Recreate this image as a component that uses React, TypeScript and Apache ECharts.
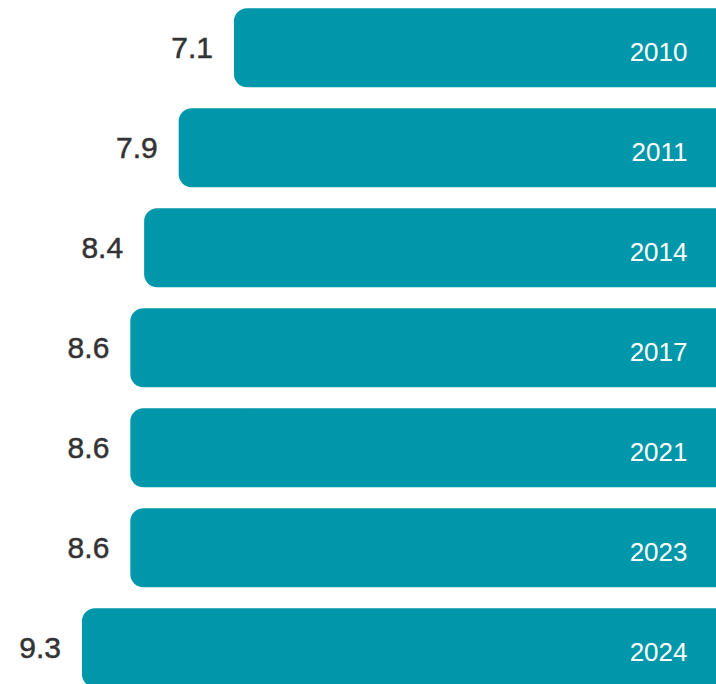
import React, { useEffect, useRef } from "react";
import * as echarts from "echarts";

const years = ["2010", "2011", "2014", "2017", "2021", "2023", "2024"];
const values = [7.1, 7.9, 8.4, 8.6, 8.6, 8.6, 9.3];

export default function App() {
  const ref = useRef<HTMLDivElement>(null);
  useEffect(() => {
    document.body.style.margin = "0";
    const chart = echarts.init(ref.current!, null, { renderer: "svg" });
    chart.setOption({
      animation: false,
      grid: {
        left: 33.6,
        width: 690.9,
        top: -2.2,
        height: 700,
        containLabel: false,
        outerBoundsMode: "none",
      },
      xAxis: {
        type: "value",
        inverse: true,
        min: 0,
        max: 10,
        show: false,
      },
      yAxis: {
        type: "category",
        data: years,
        inverse: true,
        show: false,
      },
      series: [
        {
          type: "bar",
          data: values,
          barWidth: 79,
          itemStyle: { color: "#0097ab", borderRadius: [13, 0, 0, 13] },
          label: {
            show: true,
            position: "insideRight",
            distance: 37,
            offset: [0, 4],
            formatter: (p: any) => p.name,
            color: "#ffffff",
            fontFamily: "Liberation Sans, Arial, sans-serif",
            fontWeight: "normal",
            fontSize: 26,
          },
        },
        {
          type: "bar",
          data: values,
          barWidth: 79,
          barGap: "-100%",
          itemStyle: { color: "rgba(0,0,0,0)" },
          label: {
            show: true,
            position: "left",
            distance: 21,
            formatter: (p: any) => p.value.toFixed(1),
            color: "#333333",
            textBorderColor: "#333333",
            textBorderWidth: 0.5,
            fontFamily: "Liberation Sans, Arial, sans-serif",
            fontWeight: "normal",
            fontSize: 30,
          },
        },
      ],
    });
    return () => chart.dispose();
  }, []);
  return <div ref={ref} style={{ width: 716, height: 684 }} />;
}
